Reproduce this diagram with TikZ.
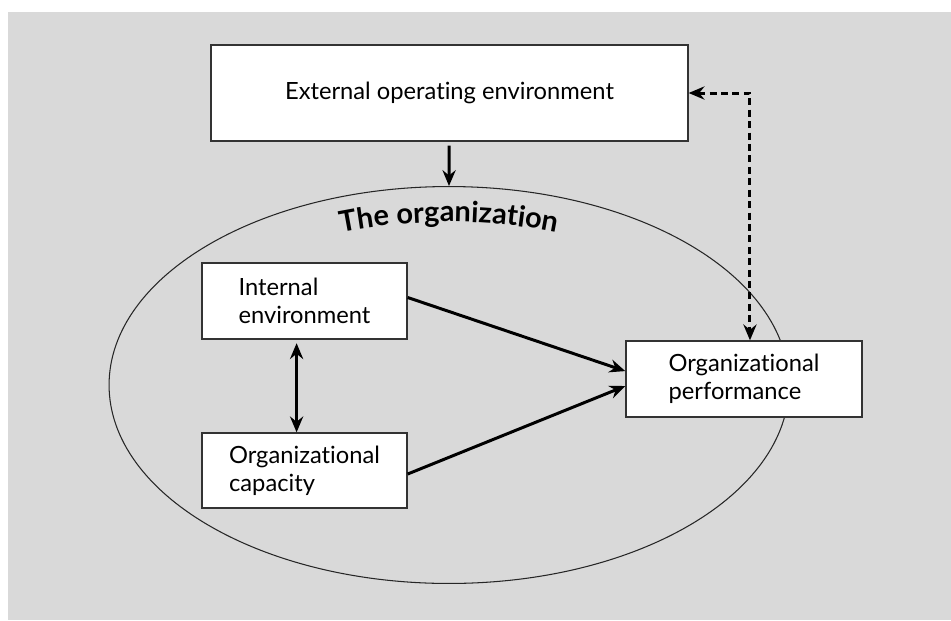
\documentclass[tikz,border=0pt]{standalone}
\usepackage{fontspec}
\setmainfont{Lato}[Ligatures=NoCommon]
\usetikzlibrary{arrows.meta,shapes.geometric,decorations.text}

\definecolor{panelgray}{HTML}{D9D9D9}
\definecolor{boxline}{HTML}{333333}

\begin{document}
\begin{tikzpicture}[x=0.02cm,y=-0.02cm,->,>={Stealth[length=9pt,width=7.5pt,inset=3pt]},line width=1.7pt,
  box node/.style={rectangle,draw=boxline,fill=white,line width=0.8pt,
  font=\fontsize{13.5}{16}\selectfont,align=left,inner sep=0pt},
  org node/.style={ellipse,draw=black!85,line width=0.6pt,inner sep=0pt,
  minimum width=13.6cm,minimum height=7.94cm}]

  \useasboundingbox (0,0) rectangle (951,620);
  \fill[panelgray] (8,12) rectangle (951,620);

  \node[org node] (org) at (449,385) {};
  \node[box node,minimum width=9.54cm,minimum height=1.92cm] (ext) at (449.5,93) {External operating environment};
  \node[box node,minimum width=4.1cm,minimum height=1.52cm] (int) at (304.5,301) {Internal\\environment};
  \node[box node,minimum width=4.1cm,minimum height=1.5cm] (cap) at (304.5,470.5) {Organizational\\capacity};
  \node[box node,minimum width=4.72cm,minimum height=1.52cm] (perf) at (744,379) {Organizational\\performance};

  % label bent along the top of the ellipse
  \path[-,decorate,decoration={text along path,text align=center,
    text={|\fontsize{16.5}{18}\selectfont\bfseries|The organization}}]
    ([shift={(200:305 and 163)}]449,385) arc[start angle=200,end angle=340,x radius=305,y radius=163];

  \path
    (ext) edge [shorten <=2.3pt] (org.north)
    ([yshift=2pt]int.east) edge ([yshift=4.5pt]perf.west)
    ([yshift=-2pt]cap.east) edge ([yshift=-4pt]perf.west)
    ([xshift=-4.5pt]int.south) edge [<->,shorten <=2pt] ([xshift=-4.5pt]cap.north);

  \draw[<->,dash pattern=on 4pt off 2.5pt] (ext.east) -| ([xshift=3.4pt]perf.north);
\end{tikzpicture}
\end{document}
